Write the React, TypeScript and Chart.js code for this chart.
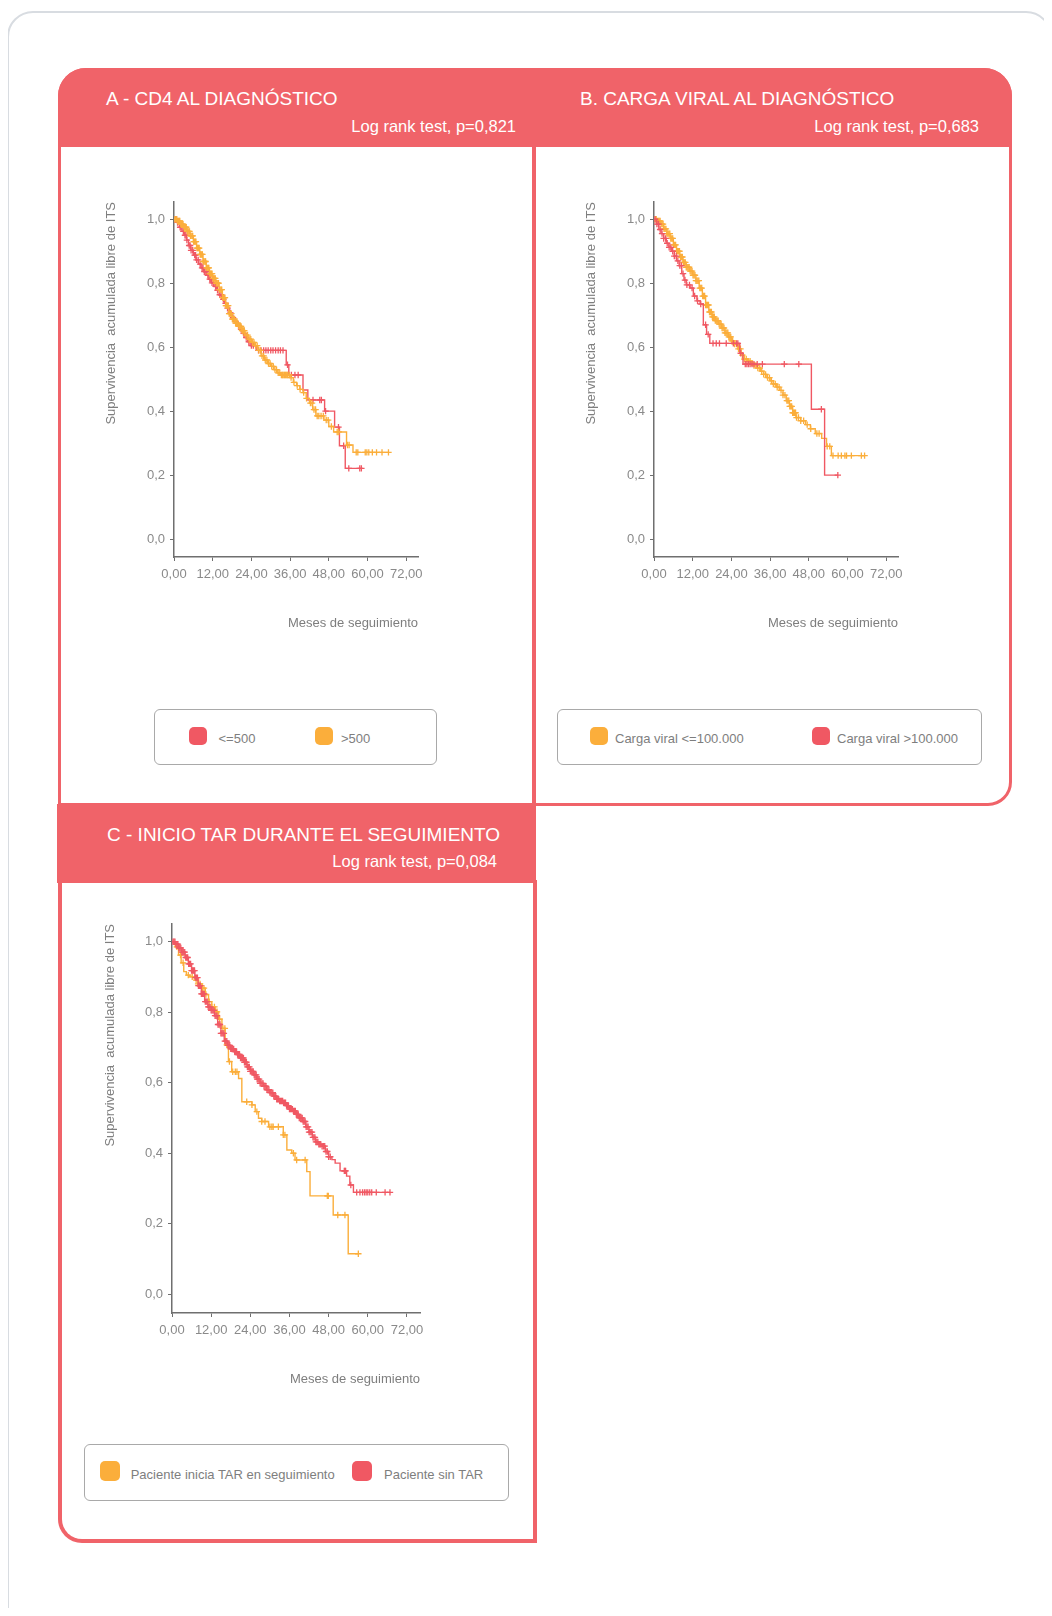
import React, { useEffect, useRef } from "react";
import { Chart, registerables } from "chart.js";

Chart.register(...registerables);

const FONT = "'Liberation Sans', Arial, Helvetica, sans-serif";
const RED = "#F05863";
const ORANGE = "#FBAE3B";
const BAND = "#F06369";
const AXIS = "#6F6F6F";
const TEXT_GRAY = "#8A8A8A";

// ---- axes ----
const yTickValues = [0, 0.2, 0.4, 0.6, 0.8, 1];
const yTickLabels = ["0,0", "0,2", "0,4", "0,6", "0,8", "1,0"];
const xTickValues = [0, 12, 24, 36, 48, 60, 72];
const xTickLabels = ["0,00", "12,00", "24,00", "36,00", "48,00", "60,00", "72,00"];
const yAxisTitle = "Supervivencia  acumulada libre de ITS";
const xAxisTitle = "Meses de seguimiento";

// ---- Panel A: CD4 al diagnóstico ----
const aTitle = "A - CD4 AL DIAGNÓSTICO";
const aTest = "Log rank test, p=0,821";
const aLegend = ["<=500", ">500"];
const aLowTimes = [0, 1.0, 1.8, 2.5, 3.2, 3.9, 4.5, 5.2, 6.0, 6.8, 7.6, 8.4, 9.2, 10.0, 10.8, 11.6, 12.4, 13.2, 14.0, 14.8, 15.6, 16.4, 17.2, 18.0, 18.8, 19.6, 20.4, 21.2, 22.0, 22.8, 23.6, 25.5, 34.8, 35.6, 40.0, 41.5, 46.7, 49.8, 51.3, 53.1];
const aLowSurv = [1, 0.99, 0.975, 0.962, 0.95, 0.935, 0.918, 0.903, 0.888, 0.873, 0.86, 0.848, 0.836, 0.825, 0.813, 0.801, 0.79, 0.778, 0.764, 0.75, 0.737, 0.722, 0.707, 0.692, 0.68, 0.668, 0.656, 0.643, 0.63, 0.617, 0.605, 0.59, 0.545, 0.513, 0.466, 0.435, 0.40, 0.35, 0.292, 0.221];
const aLowCensor = [0.4, 0.8, 1.1, 1.6, 1.9, 2.2, 2.9, 3.4, 3.7, 4.0, 4.7, 5.0, 5.3, 5.8, 6.4, 6.7, 7.0, 7.5, 8.1, 8.7, 9.0, 9.4, 9.9, 10.5, 11.1, 11.4, 11.8, 12.3, 12.9, 13.5, 14.2, 14.6, 15.3, 16.0, 16.6, 17.5, 18.3, 19.1, 20.0, 20.8, 21.6, 22.4, 23.2, 24.0, 24.6, 26.2, 27.0, 27.8, 28.5, 29.2, 30.0, 30.7, 31.5, 32.3, 33.0, 33.8, 35.2, 36.4, 37.5, 38.5, 43.1, 45.2, 45.7, 47.0, 51.0, 52.6, 54.2, 57.6, 58.1];
const aHighTimes = [0, 1, 2, 3, 4, 5, 6, 7, 8, 9, 10, 11, 12, 13, 14, 15, 16, 17, 18, 19, 20, 21, 22, 23, 24, 25, 26, 27, 28, 29, 30, 31, 32, 33, 36, 37, 38, 39, 40, 41, 42, 43, 44, 46.5, 48, 49.5, 53.5, 55.5];
const aHighSurv = [1, 0.995, 0.985, 0.975, 0.962, 0.948, 0.93, 0.91, 0.89, 0.868, 0.848, 0.83, 0.815, 0.8, 0.78, 0.755, 0.73, 0.705, 0.688, 0.675, 0.665, 0.652, 0.638, 0.625, 0.615, 0.605, 0.59, 0.573, 0.56, 0.549, 0.54, 0.53, 0.52, 0.513, 0.505, 0.49, 0.48, 0.468, 0.458, 0.44, 0.425, 0.405, 0.385, 0.372, 0.352, 0.335, 0.294, 0.271];
const aHighCensor = [0.3, 0.6, 0.8, 1.1, 1.3, 1.6, 1.8, 2.1, 2.3, 2.6, 2.8, 3.1, 3.3, 3.6, 3.8, 4.1, 4.3, 4.6, 4.8, 5.1, 5.3, 5.6, 5.8, 6.1, 6.3, 6.6, 6.8, 7.1, 7.3, 7.6, 7.8, 8.1, 8.3, 8.6, 8.8, 9.1, 9.3, 9.6, 9.8, 10.1, 10.3, 10.6, 10.8, 11.1, 11.3, 11.6, 11.8, 12.1, 12.3, 12.6, 12.8, 13.1, 13.3, 13.6, 13.8, 14.1, 14.3, 14.6, 14.8, 15.1, 15.3, 15.6, 15.8, 16.1, 16.3, 16.6, 16.8, 17.1, 17.3, 17.6, 17.8, 18.1, 18.3, 18.6, 18.8, 19.1, 19.3, 19.6, 19.8, 20.1, 20.3, 20.6, 20.8, 21.1, 21.3, 21.6, 21.8, 22.3, 22.8, 23.3, 23.8, 24.3, 24.8, 25.3, 25.8, 26.3, 26.8, 27.3, 27.8, 28.3, 28.8, 29.3, 29.8, 30.3, 30.8, 31.3, 31.8, 32.3, 32.8, 33.3, 33.6, 33.8, 34.1, 34.3, 34.6, 34.8, 35.1, 35.3, 35.8, 36.3, 37.2, 38.2, 39.1, 40.2, 41.1, 42.3, 42.8, 43.4, 43.9, 44.4, 44.9, 45.6, 46.3, 47.2, 47.8, 48.8, 50.6, 51.1, 53.8, 54.3, 56.5, 57.0, 59.3, 59.8, 60.4, 61.5, 62.8, 64.5, 66.5];

// ---- Panel B: Carga viral al diagnóstico ----
const bTitle = "B. CARGA VIRAL AL DIAGNÓSTICO";
const bTest = "Log rank test, p=0,683";
const bLegend = ["Carga viral <=100.000", "Carga viral >100.000"];
const bLowTimes = [0, 1, 2, 3, 4, 5, 6, 7, 8, 9, 10, 11, 12, 13, 14, 15, 16, 17, 18, 19, 20, 21, 22, 23, 24, 25, 26, 27, 28, 29, 30, 31, 32, 33, 34, 35, 36, 37, 38, 39, 40, 41, 42, 43, 44, 45.5, 47, 48.5, 50, 52, 53.5, 55];
const bLowSurv = [1, 0.995, 0.985, 0.97, 0.955, 0.94, 0.92, 0.9, 0.882, 0.865, 0.85, 0.838, 0.825, 0.808, 0.785, 0.76, 0.732, 0.71, 0.695, 0.683, 0.672, 0.66, 0.645, 0.632, 0.62, 0.61, 0.595, 0.575, 0.563, 0.556, 0.55, 0.543, 0.535, 0.525, 0.515, 0.505, 0.495, 0.485, 0.475, 0.465, 0.45, 0.433, 0.415, 0.395, 0.38, 0.37, 0.358, 0.345, 0.33, 0.315, 0.29, 0.261];
const bLowCensor = [0.4, 0.7, 1.0, 1.3, 1.6, 1.9, 2.2, 2.5, 2.8, 3.1, 3.4, 3.7, 4.0, 4.3, 4.6, 4.9, 5.2, 5.5, 5.8, 6.1, 6.4, 6.7, 7.0, 7.3, 7.6, 7.9, 8.2, 8.5, 8.8, 9.1, 9.4, 9.7, 10.0, 10.3, 10.6, 10.9, 11.2, 11.5, 11.8, 12.1, 12.4, 12.7, 13.0, 13.3, 13.6, 13.9, 14.2, 14.5, 14.8, 15.1, 15.4, 15.7, 16.0, 16.3, 16.6, 16.9, 17.2, 17.5, 17.8, 18.1, 18.4, 18.7, 19.0, 19.3, 19.6, 19.9, 20.2, 20.5, 20.8, 21.1, 21.4, 21.7, 22.0, 22.3, 22.6, 22.9, 23.2, 23.5, 23.8, 24.1, 24.4, 25.0, 25.6, 26.2, 26.8, 27.4, 28.0, 28.6, 29.2, 29.8, 30.4, 31.0, 31.6, 32.2, 32.8, 33.4, 34.0, 34.6, 35.2, 35.8, 36.4, 37.0, 37.6, 38.2, 38.8, 39.4, 40.0, 40.6, 41.2, 41.5, 41.8, 42.1, 42.4, 42.7, 43.0, 43.3, 43.6, 43.9, 44.2, 44.8, 45.5, 46.4, 47.5, 48.6, 50.5, 51.2, 53.7, 54.5, 55.5, 57.1, 58.1, 59.2, 59.7, 61.2, 64.3, 65.3];
const bHighTimes = [0, 0.8, 1.5, 2.2, 3.0, 3.8, 4.6, 5.5, 6.3, 7.0, 7.8, 8.6, 9.3, 10.0, 11.2, 12.2, 13.3, 14.3, 15.3, 16.3, 17.3, 26.6, 27.6, 48.8, 52.9];
const bHighSurv = [1, 0.985, 0.968, 0.955, 0.94, 0.925, 0.912, 0.9, 0.885, 0.87, 0.855, 0.83, 0.81, 0.795, 0.785, 0.76, 0.745, 0.735, 0.67, 0.64, 0.612, 0.581, 0.547, 0.406, 0.2];
const bHighCensor = [0.3, 0.9, 1.4, 1.9, 2.5, 3.0, 3.6, 4.1, 4.7, 5.2, 5.8, 6.3, 6.9, 7.4, 8.0, 8.5, 9.0, 9.6, 10.2, 11.0, 11.8, 12.6, 13.5, 14.5, 16.0, 16.8, 18.3, 19.3, 20.3, 22.4, 24.6, 25.6, 26.0, 26.9, 28.3, 28.8, 29.3, 29.8, 30.4, 31.0, 32.0, 33.6, 40.4, 44.9, 51.9, 57.0];

// ---- Panel C: Inicio TAR durante el seguimiento ----
const cTitle = "C - INICIO TAR DURANTE EL SEGUIMIENTO";
const cTest = "Log rank test, p=0,084";
const cLegend = ["Paciente inicia TAR en seguimiento", "Paciente sin TAR"];
const cTarTimes = [0, 1.0, 2.0, 2.8, 3.6, 4.4, 5.5, 7.0, 8.0, 9.2, 10.2, 11.2, 12.2, 13.3, 14.3, 15.3, 16.3, 17.3, 18.3, 20.4, 21.4, 24.5, 25.5, 26.5, 27.5, 29.6, 34.1, 35.2, 36.7, 37.7, 41.3, 42.3, 49.4, 54.0];
const cTarSurv = [1, 0.985, 0.962, 0.94, 0.915, 0.905, 0.9, 0.891, 0.88, 0.868, 0.85, 0.83, 0.815, 0.801, 0.78, 0.754, 0.707, 0.66, 0.631, 0.612, 0.546, 0.537, 0.518, 0.499, 0.49, 0.475, 0.452, 0.409, 0.40, 0.381, 0.348, 0.279, 0.225, 0.115];
const cTarCensor = [1.5, 2.6, 3.4, 5.0, 6.2, 7.4, 8.0, 8.6, 9.3, 9.8, 10.4, 11.4, 12.2, 13.0, 13.8, 14.6, 15.6, 16.2, 16.8, 17.6, 18.6, 19.4, 19.9, 22.9, 24.5, 26.0, 27.5, 28.5, 30.0, 30.6, 31.0, 32.6, 34.1, 34.6, 37.2, 38.2, 40.8, 47.6, 47.9, 50.8, 53.0, 57.1];
const cNoTimes = [0, 1, 2, 3, 4, 5, 6, 7, 8, 9, 10, 11, 12, 13, 14, 15, 16, 17, 18, 19, 20, 21, 22, 23, 24, 25, 26, 27, 28, 29, 30, 31, 32, 33, 34, 35, 36, 37, 38, 39, 40, 41, 42, 43, 44, 45, 46, 47, 48, 49, 50, 51.5, 53.5, 54.5, 55.6];
const cNoSurv = [1, 0.993, 0.982, 0.97, 0.955, 0.937, 0.918, 0.898, 0.875, 0.852, 0.83, 0.815, 0.805, 0.79, 0.765, 0.74, 0.718, 0.706, 0.696, 0.688, 0.68, 0.67, 0.658, 0.645, 0.632, 0.622, 0.61, 0.598, 0.59, 0.58, 0.572, 0.562, 0.553, 0.548, 0.543, 0.535, 0.525, 0.52, 0.51, 0.5, 0.49, 0.475, 0.46, 0.445, 0.432, 0.425, 0.42, 0.405, 0.39, 0.382, 0.372, 0.35, 0.335, 0.31, 0.289];
const cNoCensor = [0.3, 0.6, 0.9, 1.2, 1.5, 1.8, 2.1, 2.4, 2.7, 3.0, 3.3, 3.6, 3.9, 4.2, 4.5, 4.8, 5.1, 5.4, 5.7, 6.0, 6.3, 6.6, 6.9, 7.2, 7.5, 7.8, 8.1, 8.4, 8.7, 9.0, 9.3, 9.6, 9.9, 10.2, 10.5, 10.8, 11.1, 11.4, 11.7, 12.0, 12.3, 12.6, 12.9, 13.2, 13.5, 13.8, 14.1, 14.4, 14.7, 15.0, 15.3, 15.6, 15.9, 16.2, 16.5, 16.8, 17.1, 17.4, 17.7, 18.0, 18.3, 18.6, 18.9, 19.2, 19.5, 19.8, 20.1, 20.4, 20.7, 21.0, 21.3, 21.6, 21.9, 22.2, 22.5, 22.8, 23.1, 23.4, 23.7, 24.0, 24.3, 24.6, 24.9, 25.2, 25.5, 25.8, 26.1, 26.4, 26.7, 27.0, 27.3, 27.6, 27.9, 28.2, 28.5, 28.8, 29.1, 29.4, 29.7, 30.0, 30.3, 30.6, 30.9, 31.2, 31.5, 31.8, 32.1, 32.4, 32.7, 33.0, 33.3, 33.6, 33.9, 34.2, 34.5, 34.8, 35.1, 35.4, 35.7, 36.0, 36.3, 36.6, 36.9, 37.2, 37.5, 37.8, 38.1, 38.4, 38.7, 39.0, 39.3, 39.6, 39.9, 40.2, 40.5, 40.8, 41.1, 41.4, 41.7, 42.0, 42.3, 42.6, 42.9, 43.2, 43.5, 43.8, 44.1, 44.4, 44.7, 45.0, 45.3, 45.6, 46.0, 46.4, 46.8, 47.2, 47.6, 48.0, 48.5, 52.8, 53.0, 53.2, 54.8, 56.6, 57.6, 58.4, 59.0, 59.5, 60.0, 60.6, 61.2, 62.6, 65.3, 66.8];

type Series = { times: number[]; surv: number[]; censor: number[]; color: string };

function survivalAt(times: number[], surv: number[], t: number) {
  let v = surv[0];
  for (let i = 0; i < times.length; i++) if (times[i] <= t) v = surv[i];
  return v;
}

type KMProps = {
  series: Series[];
  left: number;
  top: number;
  width: number;
  height: number;
  axisWidth: number;
  padTop: number;
  yMin: number;
  yMax: number;
  xMax: number;
  yTitlePad: number;
};

function KMChart(p: KMProps) {
  const ref = useRef<HTMLCanvasElement | null>(null);
  useEffect(() => {
    if (!ref.current) return;
    const datasets: any[] = [];
    for (const s of p.series) {
      const end = Math.max(...s.censor, s.times[s.times.length - 1]);
      const pts = s.times.map((t, i) => ({ x: t, y: s.surv[i] }));
      pts.push({ x: end, y: s.surv[s.surv.length - 1] });
      datasets.push({
        data: s.censor.map((t) => ({ x: t, y: survivalAt(s.times, s.surv, t) })),
        showLine: false,
        pointStyle: "cross",
        pointRadius: 3.2,
        pointBorderWidth: 1.3,
        pointBorderColor: s.color,
        borderColor: s.color,
        backgroundColor: s.color,
      });
      datasets.push({
        data: pts,
        stepped: true,
        borderColor: s.color,
        borderWidth: 1.4,
        pointRadius: 0,
        fill: false,
      });
    }
    const tickFont = { family: FONT, size: 13 };
    const chart = new Chart(ref.current, {
      type: "line",
      data: { datasets },
      options: {
        animation: false,
        responsive: false,
        events: [],
        layout: { padding: { top: p.padTop, right: 40, left: 0, bottom: 0 } },
        plugins: { legend: { display: false }, tooltip: { enabled: false } },
        scales: {
          x: {
            type: "linear",
            min: 0,
            max: p.xMax,
            afterFit: (s: any) => {
              s.height = 78;
            },
            afterBuildTicks: (s: any) => {
              s.ticks = xTickValues.map((v) => ({ value: v }));
            },
            ticks: {
              autoSkip: false,
              maxRotation: 0,
              padding: 6,
              color: TEXT_GRAY,
              font: tickFont,
              callback: (v: any) => xTickLabels[xTickValues.indexOf(Number(v))],
            },
            grid: { drawOnChartArea: false, drawTicks: true, tickLength: 4, color: AXIS, lineWidth: 1 },
            border: { display: true, color: AXIS, width: 1.5 },
            title: {
              display: true,
              text: xAxisTitle,
              align: "end",
              color: "#7E7E7E",
              font: { family: FONT, size: 13 },
              padding: { top: 0, bottom: 4 },
            },
          },
          y: {
            type: "linear",
            min: p.yMin,
            max: p.yMax,
            afterFit: (s: any) => {
              s.width = p.axisWidth;
            },
            afterBuildTicks: (s: any) => {
              s.ticks = yTickValues.map((v) => ({ value: v }));
            },
            ticks: {
              padding: 5,
              color: TEXT_GRAY,
              font: tickFont,
              callback: (v: any) => yTickLabels[yTickValues.indexOf(Number(v))],
            },
            grid: { drawOnChartArea: false, drawTicks: true, tickLength: 4, color: AXIS, lineWidth: 1 },
            border: { display: true, color: AXIS, width: 1.5 },
            title: {
              display: true,
              text: yAxisTitle,
              align: "end",
              color: "#7E7E7E",
              font: { family: FONT, size: 13 },
              padding: { top: p.yTitlePad, bottom: 0 },
            },
          },
        },
      } as any,
    });
    return () => chart.destroy();
  }, []);
  return (
    <canvas
      ref={ref}
      width={p.width}
      height={p.height}
      style={{ position: "absolute", left: p.left, top: p.top, width: p.width, height: p.height }}
    />
  );
}

type LegendItem = { label: string; color: string; swatchLeft: number; textLeft: number };

function LegendBox(props: { left: number; top: number; width: number; height: number; swatchTop: number; swatch: number; textTop: number; items: LegendItem[] }) {
  return (
    <>
      <div
        style={{
          position: "absolute",
          left: props.left,
          top: props.top,
          width: props.width,
          height: props.height,
          border: "1px solid #A9A9A9",
          borderRadius: 6,
          boxSizing: "border-box",
        }}
      />
      {props.items.map((it, i) => (
        <React.Fragment key={i}>
          <div
            style={{
              position: "absolute",
              left: it.swatchLeft,
              top: props.swatchTop,
              width: props.swatch,
              height: props.swatch,
              borderRadius: 5,
              background: it.color,
            }}
          />
          <div
            style={{
              position: "absolute",
              left: it.textLeft,
              top: props.textTop,
              fontSize: 13,
              lineHeight: "13px",
              color: "#7E7E7E",
              whiteSpace: "nowrap",
              fontFamily: FONT,
            }}
          >
            {it.label}
          </div>
        </React.Fragment>
      ))}
    </>
  );
}

const titleStyle = (left: number, top: number): React.CSSProperties => ({
  position: "absolute",
  left,
  top,
  fontSize: 19,
  lineHeight: "19px",
  color: "#FFFFFF",
  whiteSpace: "nowrap",
  fontFamily: FONT,
});

const testStyle = (right: number, top: number): React.CSSProperties => ({
  position: "absolute",
  left: right - 300,
  width: 300,
  textAlign: "right",
  top,
  fontSize: 16.5,
  lineHeight: "16.5px",
  color: "#FFFFFF",
  whiteSpace: "nowrap",
  fontFamily: FONT,
});

export default function App() {
  const seriesA: Series[] = [
    { times: aHighTimes, surv: aHighSurv, censor: aHighCensor, color: ORANGE },
    { times: aLowTimes, surv: aLowSurv, censor: aLowCensor, color: RED },
  ];
  const seriesB: Series[] = [
    { times: bHighTimes, surv: bHighSurv, censor: bHighCensor, color: RED },
    { times: bLowTimes, surv: bLowSurv, censor: bLowCensor, color: ORANGE },
  ];
  const seriesC: Series[] = [
    { times: cNoTimes, surv: cNoSurv, censor: cNoCensor, color: RED },
    { times: cTarTimes, surv: cTarSurv, censor: cTarCensor, color: ORANGE },
  ];

  return (
    <div
      style={{
        position: "relative",
        margin: -8,
        width: 1052,
        height: 1616,
        overflow: "hidden",
        background: "#FFFFFF",
        fontFamily: FONT,
      }}
    >
      {/* outer card */}
      <div
        style={{
          position: "absolute",
          left: 7,
          top: 11,
          width: 1045,
          height: 1700,
          border: "2px solid #D8DCE1",
          borderRadius: 26,
          boxSizing: "border-box",
        }}
      />

      {/* A+B group outline */}
      <div
        style={{
          position: "absolute",
          left: 57.5,
          top: 68,
          width: 954,
          height: 738,
          border: `3px solid ${BAND}`,
          borderRadius: "28px 28px 24px 0",
          boxSizing: "border-box",
        }}
      />
      <div
        style={{
          position: "absolute",
          left: 57.5,
          top: 68,
          width: 954,
          height: 78.5,
          background: BAND,
          borderRadius: "28px 28px 0 0",
        }}
      />
      <div style={{ position: "absolute", left: 532, top: 146, width: 3.5, height: 660, background: BAND }} />

      {/* C group */}
      <div
        style={{
          position: "absolute",
          left: 57.5,
          top: 880,
          width: 479.5,
          height: 663,
          border: `4px solid ${BAND}`,
          borderTop: "none",
          borderRadius: "0 0 0 24px",
          boxSizing: "border-box",
        }}
      />
      <div style={{ position: "absolute", left: 57, top: 804, width: 479, height: 79, background: BAND }} />

      {/* header texts */}
      <div style={titleStyle(106, 89)}>{aTitle}</div>
      <div style={testStyle(516, 117.7)}>{aTest}</div>
      <div style={titleStyle(580, 89)}>{bTitle}</div>
      <div style={testStyle(979, 117.7)}>{bTest}</div>
      <div style={titleStyle(107, 824.6)}>{cTitle}</div>
      <div style={testStyle(497, 853.3)}>{cTest}</div>

      {/* charts */}
      <KMChart series={seriesA} left={60} top={160} width={398} height={475} axisWidth={114} padTop={42} yMin={-0.056} yMax={1.054} xMax={75.66} yTitlePad={44} />
      <KMChart series={seriesB} left={540} top={160} width={398} height={475} axisWidth={114} padTop={42} yMin={-0.056} yMax={1.054} xMax={75.66} yTitlePad={44} />
      <KMChart series={seriesC} left={60} top={890} width={400} height={501} axisWidth={112} padTop={34} yMin={-0.053} yMax={1.05} xMax={76} yTitlePad={43} />

      {/* legends */}
      <LegendBox
        left={153.5}
        top={709}
        width={283}
        height={56}
        swatchTop={726.5}
        swatch={18.5}
        textTop={731.5}
        items={[
          { label: aLegend[0], color: RED, swatchLeft: 188.5, textLeft: 218.5 },
          { label: aLegend[1], color: ORANGE, swatchLeft: 314.5, textLeft: 341 },
        ]}
      />
      <LegendBox
        left={556.5}
        top={709}
        width={425.5}
        height={56}
        swatchTop={726.5}
        swatch={18.5}
        textTop={731.5}
        items={[
          { label: bLegend[0], color: ORANGE, swatchLeft: 589.5, textLeft: 615 },
          { label: bLegend[1], color: RED, swatchLeft: 811.5, textLeft: 837 },
        ]}
      />
      <LegendBox
        left={84}
        top={1444}
        width={425}
        height={57}
        swatchTop={1461}
        swatch={19.5}
        textTop={1467.5}
        items={[
          { label: cLegend[0], color: ORANGE, swatchLeft: 100, textLeft: 130.7 },
          { label: cLegend[1], color: RED, swatchLeft: 352, textLeft: 384 },
        ]}
      />
    </div>
  );
}
